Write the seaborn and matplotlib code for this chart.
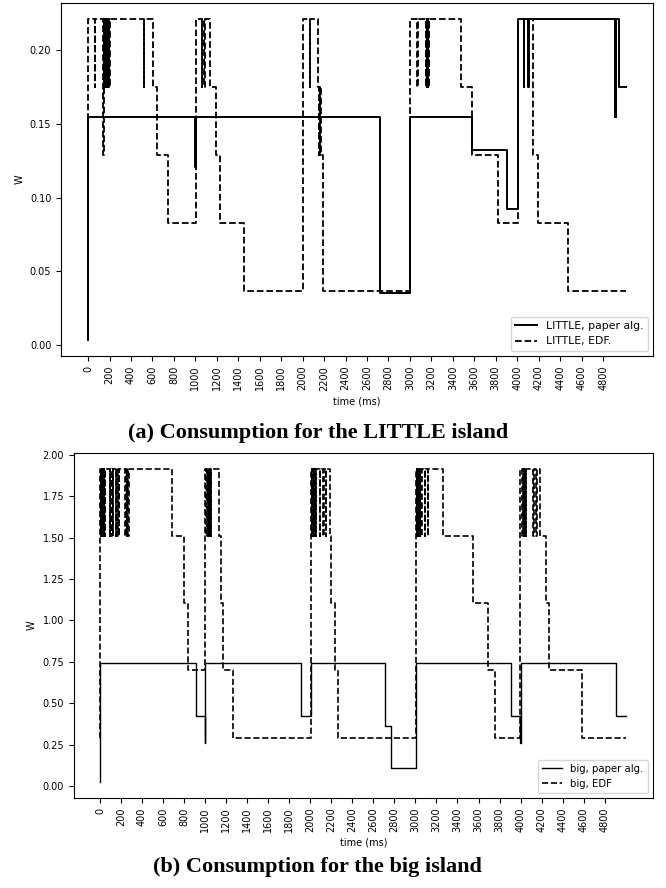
import numpy as np
import matplotlib
matplotlib.use("Agg")
import matplotlib.pyplot as plt
import seaborn as sns

# ---- LITTLE island (W), step events: time (ms) -> power
little_paper_t = [0, 2, 1000, 1004, 2720, 3000, 3575, 3900, 4009,
                  4065, 4067, 4103, 4105,
                  4908, 4912, 4916, 4920, 4950, 5010]
little_paper_w = [0.0035, 0.155, 0.121, 0.155, 0.035, 0.155, 0.132, 0.0926, 0.221,
                  0.175, 0.221, 0.175, 0.221,
                  0.155, 0.221, 0.155, 0.221, 0.175, 0.175]

little_edf_t = [0, 2, 64, 67, 137, 147,
                150, 153, 158, 161, 166, 169, 174, 177, 182, 185, 190, 193, 198, 201,
                520, 524, 609, 646, 742, 1003, 1062, 1066, 1085, 1089,
                1137, 1189, 1227, 1453, 2006, 2066, 2070,
                2146, 2152, 2156, 2160, 2164, 2170, 2190,
                3000, 3068, 3072,
                3146, 3150, 3156, 3160, 3166, 3170, 3176, 3180,
                3475, 3575, 3817, 4009,
                4149, 4196, 4475, 5009]
little_edf_w = [0.0035, 0.221, 0.175, 0.221, 0.129, 0.221,
                0.175, 0.221, 0.175, 0.221, 0.175, 0.221, 0.175, 0.221, 0.175, 0.221, 0.175, 0.221, 0.175, 0.221,
                0.175, 0.221, 0.175, 0.129, 0.083, 0.221, 0.175, 0.221, 0.175, 0.221,
                0.175, 0.129, 0.083, 0.0365, 0.221, 0.175, 0.221,
                0.175, 0.129, 0.175, 0.129, 0.175, 0.129, 0.0365,
                0.221, 0.175, 0.221,
                0.175, 0.221, 0.175, 0.221, 0.175, 0.221, 0.175, 0.221,
                0.175, 0.129, 0.083, 0.221,
                0.129, 0.083, 0.0365, 0.0365]

# ---- big island (W)
big_paper_t = [0, 2, 909, 1000, 1004, 1911, 2006, 2709, 2772, 3005,
               3906, 3998, 4004, 4905, 5000]
big_paper_w = [0.022, 0.74, 0.425, 0.262, 0.74, 0.425, 0.74, 0.364, 0.108, 0.74,
               0.425, 0.262, 0.74, 0.425, 0.425]

big_edf_t = [0, 4,
             12, 15, 20, 23, 28, 31, 36, 39, 48, 52,
             95, 99, 110, 114, 125, 129, 150, 154, 165, 169, 180, 184,
             240, 244, 255, 259, 270, 274,
             688, 802, 840, 1004,
             1012, 1015, 1020, 1023, 1028, 1031, 1036, 1039, 1044, 1047, 1052, 1055,
             1131, 1150, 1166, 1267, 2006,
             2014, 2017, 2022, 2025, 2030, 2033, 2040, 2043, 2050, 2053,
             2091, 2095, 2123, 2127, 2148, 2152,
             2186, 2200, 2234, 2266, 3005,
             3012, 3015, 3022, 3025, 3032, 3035, 3045, 3048, 3055, 3058,
             3090, 3094, 3120, 3124,
             3263, 3549, 3691, 3761, 3998,
             4009, 4012, 4018, 4021, 4028, 4031, 4040, 4043, 4052, 4055,
             4119, 4123, 4151, 4155,
             4182, 4246, 4268, 4580, 5000]
big_edf_w = [0.29, 1.918,
             1.511, 1.918, 1.511, 1.918, 1.511, 1.918, 1.511, 1.918, 1.511, 1.918,
             1.511, 1.918, 1.511, 1.918, 1.511, 1.918, 1.511, 1.918, 1.511, 1.918, 1.511, 1.918,
             1.511, 1.918, 1.511, 1.918, 1.511, 1.918,
             1.511, 1.106, 0.699, 1.918,
             1.511, 1.918, 1.511, 1.918, 1.511, 1.918, 1.511, 1.918, 1.511, 1.918, 1.511, 1.918,
             1.511, 1.106, 0.699, 0.289, 1.918,
             1.511, 1.918, 1.511, 1.918, 1.511, 1.918, 1.511, 1.918, 1.511, 1.918,
             1.511, 1.918, 1.511, 1.918, 1.511, 1.918,
             1.511, 1.106, 0.699, 0.289, 1.918,
             1.511, 1.918, 1.511, 1.918, 1.511, 1.918, 1.511, 1.918, 1.511, 1.918,
             1.511, 1.918, 1.511, 1.918,
             1.511, 1.106, 0.699, 0.289, 1.918,
             1.511, 1.918, 1.511, 1.918, 1.511, 1.918, 1.511, 1.918, 1.511, 1.918,
             1.511, 1.918, 1.511, 1.918,
             1.511, 1.106, 0.699, 0.289, 0.289]

xticks = list(range(0, 5000, 200))

plt.rcParams['font.family'] = ['DejaVu Sans']
plt.rcParams['font.size'] = 7

fig = plt.figure(figsize=(6.66, 8.88), dpi=100)
ax1 = fig.add_axes([0.0916, 0.599, 0.889, 0.3975])
ax2 = fig.add_axes([0.111, 0.1014, 0.869, 0.3885])


def draw(ax, t1, w1, lab1, lw1, t2, w2, lab2, lw2, legsize):
    sns.lineplot(x=t1, y=w1, ax=ax, color='k', lw=lw1, drawstyle='steps-post',
                 estimator=None, sort=False, label=lab1)
    sns.lineplot(x=t2, y=w2, ax=ax, color='k', lw=lw2, linestyle='--',
                 drawstyle='steps-post', estimator=None, sort=False, label=lab2)
    ax.set_xticks(xticks)
    ax.set_xticklabels([str(v) for v in xticks], rotation=90)
    ax.set_xlabel('time (ms)')
    ax.set_ylabel('W')
    ax.legend(loc='lower right', fontsize=legsize)


draw(ax1, little_paper_t, little_paper_w, 'LITTLE, paper alg.', 1.4,
     little_edf_t, little_edf_w, 'LITTLE, EDF.', 1.3, 7.8)
draw(ax2, big_paper_t, big_paper_w, 'big, paper alg.', 1.0,
     big_edf_t, big_edf_w, 'big, EDF', 1.2, 7.3)
ax1.set_yticks([0.00, 0.05, 0.10, 0.15, 0.20])
ax1.set_ylim(-0.0075, 0.232)
ax1.set_xlim(-252, 5266)
ax2.set_yticks([0.00, 0.25, 0.50, 0.75, 1.00, 1.25, 1.50, 1.75, 2.00])
ax2.set_ylim(-0.073, 2.012)
ax2.set_xlim(-247, 5256)

fig.text(0.477, 0.5124, '(a) Consumption for the LITTLE island', ha='center', va='center',
         fontsize=16, fontweight='bold', family=['Liberation Serif'])
fig.text(0.477, 0.0236, '(b) Consumption for the big island', ha='center', va='center',
         fontsize=16, fontweight='bold', family=['Liberation Serif'])

fig.savefig('out.png', dpi=100)
